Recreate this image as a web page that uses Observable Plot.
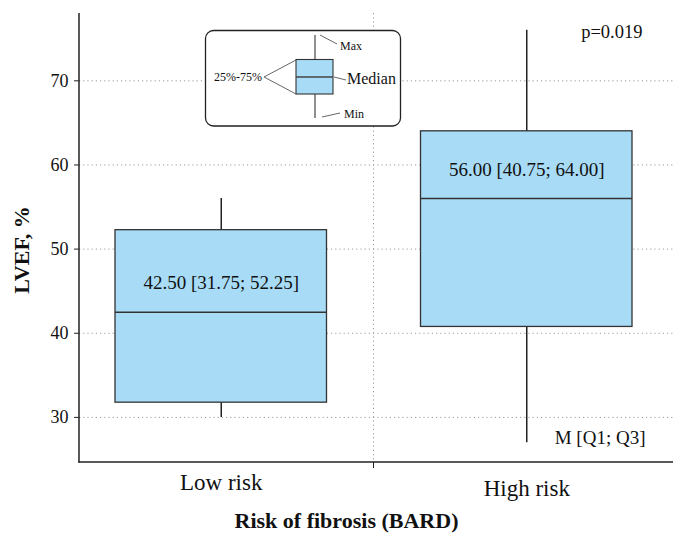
<!DOCTYPE html>
<html><head><meta charset="utf-8">
<script src="https://cdn.jsdelivr.net/npm/d3@7"></script>
<script src="https://cdn.jsdelivr.net/npm/@observablehq/plot@0.6"></script>
<style>
body{margin:0;background:#fff;}
#wrap{position:relative;width:673px;height:534px;}
</style></head><body><div id="wrap"></div>
<script>
// ---- data ----
const categories = ["Low risk", "High risk"];
const minValues = [30, 27];
const q1Values = [31.75, 40.75];
const medianValues = [42.5, 56];
const q3Values = [52.25, 64];
const maxValues = [56, 76];
const yTicks = [30, 40, 50, 60, 70];
const boxLabels = ["42.50 [31.75; 52.25]", "56.00 [40.75; 64.00]"];
const pValueText = "p=0.019";
const noteText = "M [Q1; Q3]";
const xTitle = "Risk of fibrosis (BARD)";
const yTitle = "LVEF, %";
const legendLabels = {max: "Max", median: "Median", min: "Min", iqr: "25%-75%"};

const rows = categories.map((c, i) => ({
  cat: c, min: minValues[i], q1: q1Values[i], med: medianValues[i],
  q3: q3Values[i], max: maxValues[i], label: boxLabels[i]
}));

const FONT = "'Liberation Serif', 'DejaVu Serif', serif";
const BOXFILL = "#a7dbf6";
const INSET = 47;
const T = {fontFamily: FONT, fill: "#111", lineAnchor: "middle"};

function decor(index, scales, values, dimensions) {
  const {marginLeft, marginTop, marginBottom, width, height} = dimensions;
  const bottom = height - marginBottom;
  const x = scales.x;
  const boundary = (x(categories[0]) + x.bandwidth() + x(categories[1])) / 2;
  const g = d3.create("svg:g");
  g.append("line").attr("x1", boundary).attr("x2", boundary)
    .attr("y1", marginTop).attr("y2", bottom)
    .attr("stroke", "#999").attr("stroke-dasharray", "1.2,3");
  g.append("line").attr("x1", boundary).attr("x2", boundary)
    .attr("y1", bottom).attr("y2", bottom + 6)
    .attr("stroke", "#222").attr("stroke-width", 1);
  g.append("line").attr("x1", marginLeft).attr("x2", marginLeft)
    .attr("y1", marginTop).attr("y2", bottom + 0.6)
    .attr("stroke", "#222").attr("stroke-width", 1.5);
  g.append("line").attr("x1", marginLeft - 0.7).attr("x2", width)
    .attr("y1", bottom).attr("y2", bottom)
    .attr("stroke", "#222").attr("stroke-width", 1.5);
  return g.node();
}

const chart = Plot.plot({
  width: 673,
  height: 534,
  marginLeft: 79,
  marginRight: 0,
  marginTop: 13,
  marginBottom: 72,
  style: {fontFamily: FONT, background: "#fff", color: "#111"},
  x: {domain: categories, range: [68, 679], padding: 0, axis: null, round: false},
  y: {domain: [24.64, 78.0], axis: null},
  marks: [
    Plot.gridY(yTicks, {stroke: "#999", strokeOpacity: 1, strokeDasharray: "1.2,3"}),
    decor,
    Plot.axisY(yTicks, {tickSize: 5, tickPadding: 6, fontSize: 18, fontFamily: FONT, label: null, stroke: "#222", tickFormat: d => String(d)}),
    Plot.ruleX(rows, {x: "cat", y1: "min", y2: "max", stroke: "#222", strokeWidth: 1.5}),
    Plot.barY(rows, {x: "cat", y1: "q1", y2: "q3", fill: BOXFILL, stroke: "#333", strokeWidth: 1.3, insetLeft: INSET, insetRight: INSET}),
    Plot.tickY(rows, {x: "cat", y: "med", stroke: "#333", strokeWidth: 1.5, insetLeft: INSET, insetRight: INSET}),
    Plot.text(rows, {...T, x: "cat", y: "med", text: "label", dy: -29, fontSize: 19}),
    Plot.text([pValueText], {...T, frameAnchor: "top-right", text: d => d, textAnchor: "end", dx: -31, dy: 19, fontSize: 18.5}),
    Plot.text([noteText], {...T, frameAnchor: "bottom-right", text: d => d, textAnchor: "end", dx: -28, dy: -25, fontSize: 19}),
    Plot.text([categories[0]], {...T, x: d => d, text: d => d, frameAnchor: "bottom", textAnchor: "middle", dy: 20.5, fontSize: 23}),
    Plot.text([categories[1]], {...T, x: d => d, text: d => d, frameAnchor: "bottom", textAnchor: "middle", dy: 26, fontSize: 23}),
    Plot.text([xTitle], {...T, frameAnchor: "bottom", text: d => d, textAnchor: "middle", dx: -30, dy: 58.5, fontSize: 22, fontWeight: "bold"}),
    Plot.text([yTitle], {...T, frameAnchor: "left", text: d => d, textAnchor: "middle", rotate: -90, dx: -58, dy: 12, fontSize: 22, fontWeight: "bold"})
  ]
});

const wrap = document.getElementById("wrap");
wrap.appendChild(chart);

// ---- legend (schematic) overlay ----
const leg = d3.select(wrap).append("svg")
  .attr("width", 673).attr("height", 534)
  .style("position", "absolute").style("left", "0px").style("top", "0px")
  .style("font-family", FONT);
leg.append("rect").attr("x", 205.5).attr("y", 30.5).attr("width", 195).attr("height", 95.5)
  .attr("rx", 8).attr("fill", "#fff").attr("stroke", "#222").attr("stroke-width", 1.3);
leg.append("line").attr("x1", 315).attr("x2", 315).attr("y1", 35).attr("y2", 118)
  .attr("stroke", "#555").attr("stroke-width", 1.3);
leg.append("rect").attr("x", 296).attr("y", 59.5).attr("width", 37).attr("height", 34.5)
  .attr("fill", BOXFILL).attr("stroke", "#333").attr("stroke-width", 1.1);
leg.append("line").attr("x1", 296).attr("x2", 333).attr("y1", 77).attr("y2", 77)
  .attr("stroke", "#444").attr("stroke-width", 1.4);
const lead = [[320, 35, 337, 44], [334, 77, 346, 80], [322, 117, 340, 113], [264, 77, 296, 60], [264, 77, 296, 94]];
lead.forEach(([a, b, c, d]) => leg.append("line").attr("x1", a).attr("y1", b).attr("x2", c).attr("y2", d)
  .attr("stroke", "#555").attr("stroke-width", 0.9));
leg.append("text").attr("x", 340).attr("y", 46).attr("dy", "0.32em").attr("font-size", 12).attr("fill", "#111").text(legendLabels.max);
leg.append("text").attr("x", 347).attr("y", 79).attr("dy", "0.32em").attr("font-size", 16).attr("fill", "#111").text(legendLabels.median);
leg.append("text").attr("x", 344).attr("y", 114).attr("dy", "0.32em").attr("font-size", 12).attr("fill", "#111").text(legendLabels.min);
leg.append("text").attr("x", 262).attr("y", 77).attr("dy", "0.32em").attr("font-size", 12).attr("text-anchor", "end").attr("fill", "#111").text(legendLabels.iqr);
</script>
</body></html>
